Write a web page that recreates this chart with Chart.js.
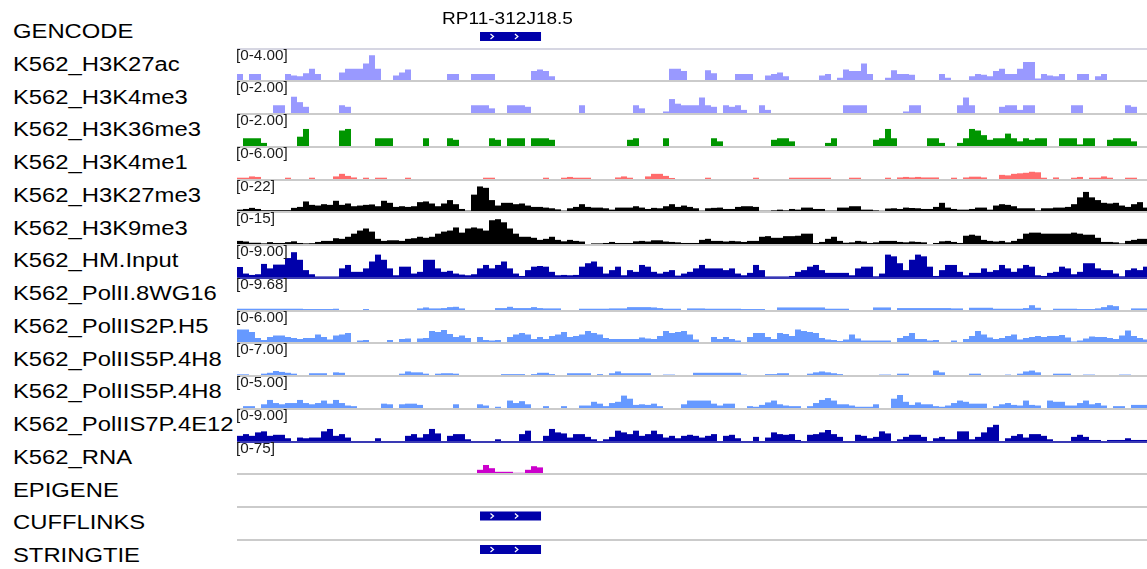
<!DOCTYPE html>
<html lang="en">
<head>
<meta charset="utf-8">
<script src="https://cdn.jsdelivr.net/npm/chart.js"></script>
<style>
    body { margin: 0; width: 1147px; height: 569px; overflow: hidden; background: #fff;
           position: relative; font-family: 'Liberation Sans', Arial, sans-serif; }
    .name { position: absolute; left: 13px; font-size: 20px; color: #000; white-space: nowrap;
            display: flex; align-items: center; transform: scaleX(1.19); transform-origin: left center; }
    .range { position: absolute; left: 236px; font-size: 14px; line-height: 15px; color: #1a1a1a;
             white-space: nowrap; transform: scaleX(1.09); transform-origin: left top; }
    .sep { position: absolute; left: 237px; width: 910px; height: 2px; background: #cbcbcb; }
    canvas { position: absolute; left: 237px; }
</style>
</head>
<body>
<script>
    // one bin = 6px of the browser window, 152 bins across the data panel
    const binCount = 152;

    const trackNames = ["GENCODE", "K562_H3K27ac", "K562_H3K4me3", "K562_H3K36me3", "K562_H3K4me1",
        "K562_H3K27me3", "K562_H3K9me3", "K562_HM.Input", "K562_PolII.8WG16", "K562_PolIIS2P.H5",
        "K562_PolIIS5P.4H8", "K562_PolIIS5P.4H8", "K562_PolIIS7P.4E12", "K562_RNA",
        "EPIGENE", "CUFFLINKS", "STRINGTIE"];

    // signal tracks (rows 1..13)
    const rangeLabels = ["[0-4.00]", "[0-2.00]", "[0-2.00]", "[0-6.00]", "[0-22]", "[0-15]", "[0-9.00]",
        "[0-9.68]", "[0-6.00]", "[0-7.00]", "[0-5.00]", "[0-9.00]", "[0-75]"];
    const rangeMax = [4, 2, 2, 6, 22, 15, 9, 9.68, 6, 7, 5, 9, 75];
    const trackColors = ["#9999ff", "#9999ff", "#009600", "#ff6c6c", "#000000", "#000000", "#0000aa",
        "#6699ff", "#6699ff", "#6699ff", "#6699ff", "#0000aa", "#cc00cc"];

    const h3k27ac = [
        0.8,0,0.8,0.8,0,0,0,0,0.8,0.6,
        0.5,0.9,1.5,0.8,0,0,0,1.0,1.5,1.5,
        1.5,2.2,3.3,1.5,0,0,0.6,1.0,1.4,0,
        0,0,0,0,0,0.8,0.8,0,0,0.8,
        0.8,0.8,0.8,0,0,0,0,0,0,1.2,
        1.4,1.2,0.5,0,0,0,0,0,0,0,
        0,0,0,0,0,0,0,0,0,0,
        0,0,1.5,1.5,1.2,0,0,0,1.3,0.9,
        0,0,0,0.8,0.8,0.8,0,0,0.6,0.8,
        1.0,0.5,0,0,0,0,0,0.6,0.8,0,
        0.3,1.4,1.2,1.2,2.2,0.8,0,0,0.3,1.3,
        0.8,0.8,0.7,0,0,0,0,0.8,0.3,0,
        0,0,0.5,0.8,0.7,0.5,1.2,1.5,0.8,0.8,
        1.5,2.4,2.4,0.2,0.8,0.6,0.5,0.8,0,0,
        0.8,0.8,0,0.5,0.8,0,0,0,0,0,
        0,0];
    const h3k4me3 = [
        0,0,0,0,0,0,0.5,0.5,0,1.05,
        0.7,0.4,0,0,0,0,0,0.5,0.4,0,
        0,0,0,0,0,0,0,0,0,0,
        0,0,0,0,0,0,0,0,0,0.5,
        0.5,0.5,0.3,0,0,0.5,0.5,0.5,0.4,0,
        0,0,0,0,0,0,0,0.5,0,0,
        0,0,0,0,0,0,0.5,0.3,0,0,
        0,0.1,0.9,0.6,0.5,0.5,0.5,1.0,0.5,0.4,
        0,0.5,0.4,0.5,0.2,0,0,0.5,0.2,0,
        0,0,0,0,0,0,0,0,0,0,
        0,0.5,0.5,0.5,0.5,0,0,0,0,0,
        0,0.1,0.5,0.5,0,0,0,0,0,0,
        0.5,1.0,0.5,0,0,0,0,0.4,0.5,0.5,
        0.2,0.5,0.5,0,0,0,0,0,0,0.5,
        0.5,0,0,0,0,0,0,0,0.5,0.4,
        0,0];
    const h3k36me3 = [
        0,0.5,0.5,0.5,0.2,0,0,0,0,0,
        0.6,1.1,0,0,0,0,0,1.0,1.1,0,
        0,0,0,0.5,0.5,0.5,0,0,0,0,
        0,0.5,0,0,0,0.5,0.4,0,0,0,
        0,0,0.5,0.4,0,0.5,0.5,0.5,0,0.5,
        0.5,0.5,0.4,0,0,0,0,0,0,0,
        0,0,0,0,0,0.4,0.5,0,0,0,
        0,0.5,0,0,0,0,0,0,0,0.5,
        0.3,0,0,0,0,0,0,0,0,0.4,
        0.5,0.5,0.3,0,0,0,0,0,0.2,0.5,
        0,0,0,0,0,0,0.4,0.5,1.1,0.5,
        0,0,0,0,0,0.5,0.5,0.2,0,0,
        0.2,0.5,1.1,1.0,0.7,0.4,0.5,0.5,0.8,0.5,
        0.3,0.5,0.4,0.5,0.5,0,0,0.5,0.5,0.5,
        0.1,0.5,0.5,0,0,0.4,0.5,0.5,0.5,0.3,
        0,0];
    const h3k4me1 = [
        0.25,0.25,0.5,0.4,0,0,0,0,0.25,0,
        0,0,0.25,0,0,0,0.5,1.0,0.6,0.3,
        0,0.25,0,0.25,0.25,0,0,0,0.25,0,
        0,0,0,0,0,0,0,0,0,0,
        0,0.25,0.25,0,0,0,0,0,0,0,
        0,0.25,0,0,0.25,0.4,0.25,0.25,0.25,0,
        0,0,0,0.3,0.5,0.25,0,0,0.5,1.0,
        1.0,0.6,0.2,0,0,0,0,0,0.25,0,
        0,0,0,0,0,0,0.25,0,0,0,
        0,0,0.25,0.25,0.25,0.25,0.25,0.25,0.25,0,
        0,0,0.25,0.25,0,0,0,0,0.25,0,
        0.3,0.4,0.3,0.4,0.3,0.3,0.3,0,0,0.25,
        0,0.3,0.45,0.45,0.3,0,0,0.8,0.7,1.0,
        1.1,1.2,1.4,1.3,0.25,0,0.3,0,0,0.25,
        0.4,0,0.25,0.25,0.5,0.25,0,0,0.25,0.25,
        0,0];
    const h3k27me3 = [
        1.0,1.5,2.3,1.5,0.6,0.6,0.6,0.6,0.6,2.3,
        3.0,7.0,4.5,4.0,5.0,4.5,7.5,4.5,5.5,3.5,
        4.0,4.5,4.8,3.5,7.5,6.0,3.0,3.5,3.0,3.5,
        6.5,7.0,5.5,3.5,5.5,8.0,5.0,1.5,0.3,12.0,
        18.0,17.0,8.0,4.0,6.0,6.0,5.0,5.5,4.0,3.0,
        3.0,2.5,2.0,1.2,0.3,2.0,3.0,5.0,3.0,2.5,
        2.5,2.0,1.0,2.5,2.5,2.5,3.5,2.5,1.5,2.3,
        2.0,3.5,5.0,3.0,4.0,3.0,2.0,0.3,2.0,2.3,
        2.5,1.5,1.5,3.0,3.5,3.5,3.0,0.2,0.2,0.5,
        1.0,0.5,1.5,1.0,2.5,2.5,1.5,1.5,0.3,0.3,
        2.5,2.5,3.5,3.5,1.0,1.0,0.5,0.2,1.8,2.0,
        1.5,2.5,2.2,2.0,1.5,1.5,3.0,6.0,2.5,1.5,
        1.0,1.0,1.5,2.5,2.5,1.0,4.0,5.0,4.5,3.5,
        2.0,2.0,2.0,0.5,2.0,2.0,2.5,2.5,3.0,5.0,
        10.0,14.0,10.0,8.0,6.0,5.5,6.0,4.0,3.0,5.0,
        6.5,2.5];
    const h3k9me3 = [
        1.5,1.2,0.6,0.6,0.3,0.9,0.5,0.5,0.9,1.3,
        0.5,0.3,0.4,1.0,1.5,1.5,2.8,2.5,3.5,5.0,
        6.5,7.5,6.0,2.5,1.5,1.8,1.8,1.5,2.5,2.8,
        3.5,3.0,3.5,5.0,6.0,6.5,8.0,5.5,7.5,8.0,
        7.5,6.5,11.5,12.0,10.5,7.5,5.0,3.5,3.5,3.0,
        2.0,2.5,3.5,2.0,1.3,2.0,1.5,1.2,0,0.3,
        0.3,0.5,1.0,0.5,0.5,0.5,1.3,1.5,1.2,1.8,
        1.8,1.2,1.0,0.8,0.5,0.5,0.5,2.0,2.5,1.5,
        1.5,1.2,1.5,1.3,1.0,1.5,1.5,3.5,3.8,3.0,
        3.0,3.8,3.8,4.0,5.0,5.0,0.5,1.0,2.5,3.5,
        1.5,0.6,0.8,1.5,1.2,0.5,0.8,1.5,1.5,1.5,
        1.0,0.8,1.2,1.0,0.8,0,0.5,1.3,1.5,1.0,
        0.5,4.0,4.5,4.0,2.0,1.5,1.2,1.5,0.8,1.5,
        2.5,5.0,5.5,5.5,5.0,5.0,5.0,5.0,5.0,5.5,
        5.0,4.5,4.5,3.0,1.0,1.0,0.8,0.3,1.5,2.0,
        2.5,2.5];
    const hmInput = [
        2.9,1.0,0.6,0.8,3.8,2.5,3.6,3.6,5.5,7.2,
        5.0,2.0,0.8,0.15,0.15,0.15,0.15,2.5,3.5,1.5,
        1.5,2.5,4.5,6.5,5.0,2.5,0.5,3.0,3.0,1.0,
        1.5,5.0,5.0,2.5,1.5,1.8,1.0,0.7,0.5,0.8,
        2.5,3.5,2.5,3.5,4.5,2.5,1.0,0.3,2.0,3.0,
        3.2,3.0,1.5,0.5,0.6,0.5,0.6,3.0,4.0,4.5,
        3.0,1.0,2.0,3.0,0.5,2.0,1.5,3.5,3.0,1.5,
        1.0,1.5,2.0,0.4,1.0,1.5,2.5,3.5,2.5,2.5,
        2.5,2.0,2.5,1.0,0.5,1.2,3.5,2.0,0.15,0.15,
        0.15,0.15,0.3,1.5,2.0,3.0,3.5,2.0,1.2,1.2,
        1.2,1.2,0.5,2.5,3.0,3.0,0.2,1.0,6.5,6.0,
        4.0,2.0,5.0,6.5,6.0,3.0,0.3,2.0,3.5,3.5,
        1.5,0.5,1.2,1.2,2.5,1.5,2.0,3.5,2.5,1.5,
        2.5,3.5,3.0,0.5,0.3,1.2,1.5,3.0,2.5,0.8,
        1.5,4.0,4.0,2.5,2.0,2.0,1.0,0.2,2.0,2.5,
        2.0,3.0];
    const pol8wg16 = [
        0.4,0.4,0.4,0.4,0.4,0.4,0.4,0.4,0.4,0.4,
        0.4,0.3,0.3,0.3,0.3,0.3,0.4,0,0,0,
        0,0.3,0,0,0,0,0,0,0,0,
        0.5,0.8,0.5,0.5,0.6,0.9,1.0,0.5,0,0,
        0,0,0,0.6,0.6,1.0,0.6,0.6,0.6,0.9,
        0.6,0.5,0.5,0.5,0,0,0,0.4,0.4,0.4,
        0.4,0.4,0.5,0.5,0.5,0.9,0.9,0.9,0.9,0.8,
        0.6,0.4,0.4,0.4,0,0.5,0.5,0.5,0.4,0.4,
        0.4,0.4,0.4,0.4,0.3,0.3,0.3,0.3,0,0,
        0.8,0.8,0.8,0.8,0.8,0.8,0.8,0.8,0.4,0.4,
        0.4,0.4,0,0,0,0,0.8,0.8,0.8,0,
        0.6,0.6,0.6,0.6,0.6,0.6,0.6,0.6,0.6,0.5,
        0.5,0,0.7,0.7,0.7,0.7,0.4,0.4,0.4,0.4,
        0.4,0.6,1.5,0.7,0,0,0.4,0.4,0.4,0.4,
        0.3,0.3,0.3,0.5,0.9,1.5,1.2,0,0,0.5,
        0.5,0.5];
    const polS2P = [
        2.5,2.5,2.0,0.8,0.4,1.0,1.3,1.3,1.0,0.8,
        0.6,0.8,0.8,1.5,1.0,0.5,1.3,1.5,1.8,0,
        0.3,0.4,0,0,0,0.4,0,0.6,0.7,0,
        0.7,0.8,2.2,2.0,2.4,1.6,1.0,1.3,0.8,0,
        1.0,0.4,0.3,0.4,0,1.0,1.5,1.8,1.5,0.6,
        1.0,0.6,1.2,1.5,2.0,1.0,1.2,1.5,2.2,1.8,
        1.5,0.8,0.6,0.6,0.6,0.6,0.6,0.9,0.7,0.6,
        1.2,2.2,1.8,2.0,2.2,1.5,0.5,0,0,1.0,
        0.6,1.0,0.6,0.3,0,1.0,1.8,1.8,1.0,0.6,
        1.8,1.6,1.2,2.5,2.2,2.0,1.8,0.8,0.5,0.4,
        0.2,0.5,1.5,0.7,0.3,0.3,0.3,0.3,0.3,0,
        0.8,1.2,1.8,0.6,0.6,0.3,0.4,0,0,0.3,
        0,0.6,1.2,2.2,1.5,0.9,0.6,0.8,1.2,1.5,
        0.5,0.8,1.0,1.2,1.0,1.2,1.2,1.4,0.9,0.1,
        0.3,0.7,1.1,1.0,1.0,0.8,0.6,1.3,2.3,1.2,
        0.8,0.5];
    const polS5P = [
        0.15,0.15,0,0,0.3,0.5,0.9,0.7,0.5,0.3,
        0,0,0.4,0.4,0.4,0,0.6,0.5,0,0,
        0,0,0,0,0,0,0,0.3,0.8,0.6,
        0.6,0.3,0,0.3,0.4,0.4,0.3,0,0,0,
        0,0,0,0,0.2,0.2,0.2,0.2,0,0.2,
        0.5,0.5,0.2,0,0,0.4,0.4,0.4,0.4,0,
        0.2,0,0.4,0.8,0.4,0.4,0.4,0.4,0.4,0,
        0,0.1,0.1,0,0,0,0.5,0.5,0.5,0.5,
        0.5,0.5,0.5,0.5,0.1,0,0,0,0.2,0.2,
        0.4,0.4,0,0,0,0.3,0.6,0.8,0.6,0.4,
        0.2,0,0,0,0,0,0,0.1,0.1,0,
        0.3,0.3,0,0,0,0,1.0,0.6,0,0,
        0,0,0.3,0.3,0,0,0,0,0.1,0,
        0.3,0.8,1.0,0.6,0,0,0.3,0.3,0.3,0,
        0,0.1,0.1,0,0,0,0,0.1,0.1,0,
        0,0];
    const polS5Pb = [
        0,0.3,0.3,0,0.6,1.3,0.8,0.6,0.8,0.8,
        1.3,0.8,0.6,0.8,1.2,0.7,1.3,0.8,0.4,0.3,
        0,0,0,0,0.7,0.6,0,0.6,0.7,0.7,
        0.5,0,0,0,0,0,0.6,0,0,0,
        0.6,0.4,0,0.2,0,1.2,0.8,1.1,0.6,0,
        0,0.3,0,0,0.3,0,0,0.4,0.4,1.0,
        0.7,0.3,0.8,1.0,2.0,1.5,0.5,0.6,0.5,0.7,
        0.3,0,0,0,0.6,1.2,1.2,1.2,1.2,0.7,
        0.4,0.7,0.7,0,0,0.3,0.2,0.5,0.9,1.2,
        0.6,0.4,0.3,0.3,0,0.3,0.8,1.3,1.6,1.2,
        0.6,0.6,0.4,0.2,0.2,0.2,0.6,0,0,1.5,
        2.1,1.0,0.5,0.9,0.6,0.6,0.3,0.2,0.4,0.8,
        1.2,1.0,0.7,0.7,0.7,0,0.3,0.6,0.8,0.5,
        0.4,1.2,0.5,0.4,0,1.2,1.0,1.0,0.4,0.4,
        0.8,1.2,0.6,0.8,0.4,0,0.3,0.3,0,0.5,
        0.5,0.5];
    const polS7P = [
        1.5,2.0,1.5,2.5,2.8,1.5,1.8,1.8,0.8,0,
        1.0,0.8,1.0,1.0,2.8,3.5,1.5,2.0,1.0,0,
        0,0,0,0.8,0,0,0,0,1.5,2.0,
        1.0,2.0,3.5,2.2,0,1.5,2.0,2.0,0.5,0,
        0,0,0,0.5,0,0,0,2.0,3.0,0,
        0,1.5,3.5,2.5,2.2,1.0,2.0,2.0,1.2,0.5,
        0,0.5,1.2,3.0,2.5,2.0,3.0,1.5,2.0,3.0,
        2.0,1.0,1.5,0.8,1.5,1.8,1.5,1.0,1.5,2.0,
        0,1.5,1.8,0.8,0,0,1.2,0,1.0,2.5,
        2.0,1.8,2.0,0.3,0,1.8,2.0,2.5,3.2,2.0,
        1.2,0,0,1.8,1.5,0.8,1.2,2.8,2.2,0,
        0.5,1.2,1.8,1.8,1.2,0,0.8,1.2,0.5,0.5,
        2.8,2.8,0.5,1.2,2.5,4.0,4.7,0,0.8,1.5,
        2.0,1.0,2.0,2.0,1.5,0.5,0,0,0,1.2,
        1.8,1.2,0.3,0.3,0,0.3,0.3,0.3,0.8,0.3,
        0.3,0.3];
    const rna = [
        0,0,0,0,0,0,0,0,0,0,
        0,0,0,0,0,0,0,0,0,0,
        0,0,0,0,0,0,0,0,0,0,
        0,0,0,0,0,0,0,0,0,0,
        8,20,12,3,3,3,0.5,0.5,8,17,
        14,0,0,0,0,0,0,0,0,0,
        0,0,0,0,0,0,0,0,0,0,
        0,0,0,0,0,0,0,0,0,0,
        0,0,0,0,0,0,0,0,0,0,
        0,0,0,0,0,0,0,0,0,0,
        0,0,0,0,0,0,0,0,0,0,
        0,0,0,0,0,0,0,0,0,0,
        0,0,0,0,0,0,0,0,0,0,
        0,0,0,0,0,0,0,0,0,0,
        0,0,0,0,0,0,0,0,0,0,
        0,0];
    const signals = [h3k27ac, h3k4me3, h3k36me3, h3k4me1, h3k27me3, h3k9me3, hmInput,
        pol8wg16, polS2P, polS5P, polS5Pb, polS7P, rna];

    // gene model (same feature in GENCODE, CUFFLINKS, STRINGTIE), in bin units
    const geneName = "RP11-312J18.5";
    const geneStart = 40.5;
    const geneEnd = 50.67;

    const rowHeight = 32.75;
    const firstRowTop = 15.25;
    const rowTop = i => firstRowTop + rowHeight * i;
    const binPx = 6;
    const panelWidth = binCount * binPx;   // runs 2px past the window edge

    const body = document.body;
    const binLabels = Array.from({ length: binCount }, (_, i) => i);

    // track names on the left
    trackNames.forEach((name, i) => {
        const d = document.createElement('div');
        d.className = 'name';
        d.textContent = name;
        d.style.top = rowTop(i) + 'px';
        d.style.height = rowHeight + 'px';
        body.appendChild(d);
    });

    // separator lines under each row (dark blue tracks show their own baseline)
    for (let i = 0; i < 16; i++) {
        const s = document.createElement('div');
        s.className = 'sep';
        s.style.top = Math.floor(rowTop(i + 1)) + 'px';
        if (i === 0) s.style.background = '#d6d6e2';
        if (i >= 1 && i <= 13 && trackColors[i - 1] === '#0000aa') s.style.background = '#3a3ab4';
        body.appendChild(s);
    }

    function makeCanvas(top, height) {
        const c = document.createElement('canvas');
        c.width = panelWidth;
        c.height = height;
        c.style.top = top + 'px';
        body.appendChild(c);
        return c;
    }

    // signal tracks
    signals.forEach((values, k) => {
        const row = k + 1;
        const top = Math.floor(rowTop(row)) + 2;
        const bottom = Math.floor(rowTop(row + 1));
        const canvas = makeCanvas(top, bottom - top);
        new Chart(canvas, {
            type: 'bar',
            data: {
                labels: binLabels,
                datasets: [{
                    data: values,
                    backgroundColor: trackColors[k],
                    borderWidth: 0,
                    inflateAmount: 0,
                    barPercentage: 1,
                    categoryPercentage: 1
                }]
            },
            options: {
                responsive: false,
                animation: false,
                events: [],
                devicePixelRatio: 1,
                layout: { padding: 0 },
                scales: {
                    x: { display: false },
                    y: { display: false, min: 0, max: rangeMax[k] }
                },
                plugins: { legend: { display: false }, tooltip: { enabled: false } }
            }
        });

        const r = document.createElement('div');
        r.className = 'range';
        r.textContent = rangeLabels[k];
        r.style.top = Math.floor(rowTop(row)) + 'px';
        body.appendChild(r);
    });

    // chevrons + gene name on the feature bars
    const geneDecor = {
        id: 'geneDecor',
        afterDatasetsDraw(chart, args, opts) {
            const ctx = chart.ctx;
            chart.getDatasetMeta(0).data.forEach(bar => {
                const x0 = Math.min(bar.x, bar.base), x1 = Math.max(bar.x, bar.base);
                const cy = bar.y;
                ctx.save();
                ctx.strokeStyle = '#ffffff';
                ctx.lineWidth = 1.2;
                for (let x = x0 + 12; x < x1 - 6; x += 24.4) {
                    ctx.beginPath();
                    ctx.moveTo(x - 1.5, cy - 2.5);
                    ctx.lineTo(x + 1.5, cy);
                    ctx.lineTo(x - 1.5, cy + 2.5);
                    ctx.stroke();
                }
                if (opts.label) {
                    ctx.fillStyle = '#000';
                    ctx.font = "16px 'Liberation Sans', Arial, sans-serif";
                    ctx.textAlign = 'center';
                    ctx.textBaseline = 'alphabetic';
                    ctx.translate((x0 + x1) / 2 - 3, opts.labelY);
                    ctx.scale(1.19, 1);
                    ctx.fillText(opts.label, 0, 0);
                }
                ctx.restore();
            });
        }
    };

    function geneTrack(top, height, padTop, padBottom, label) {
        const canvas = makeCanvas(top, height);
        new Chart(canvas, {
            type: 'bar',
            data: {
                labels: [geneName],
                datasets: [{
                    data: [[geneStart, geneEnd]],
                    backgroundColor: '#0000aa',
                    borderWidth: 0,
                    inflateAmount: 0,
                    barThickness: 9
                }]
            },
            options: {
                indexAxis: 'y',
                responsive: false,
                animation: false,
                events: [],
                devicePixelRatio: 1,
                layout: { padding: { top: padTop, bottom: padBottom, left: 0, right: 0 } },
                scales: {
                    x: { type: 'linear', display: false, min: 0, max: binCount },
                    y: { display: false }
                },
                plugins: {
                    legend: { display: false },
                    tooltip: { enabled: false },
                    geneDecor: { label: label, labelY: 24 }
                }
            },
            plugins: [geneDecor]
        });
    }

    geneTrack(0, 48, 27, 2, geneName);      // GENCODE
    geneTrack(507, 32, 0, 14, null);         // CUFFLINKS
    geneTrack(540, 29, 0, 10, null);         // STRINGTIE
</script>
</body>
</html>
